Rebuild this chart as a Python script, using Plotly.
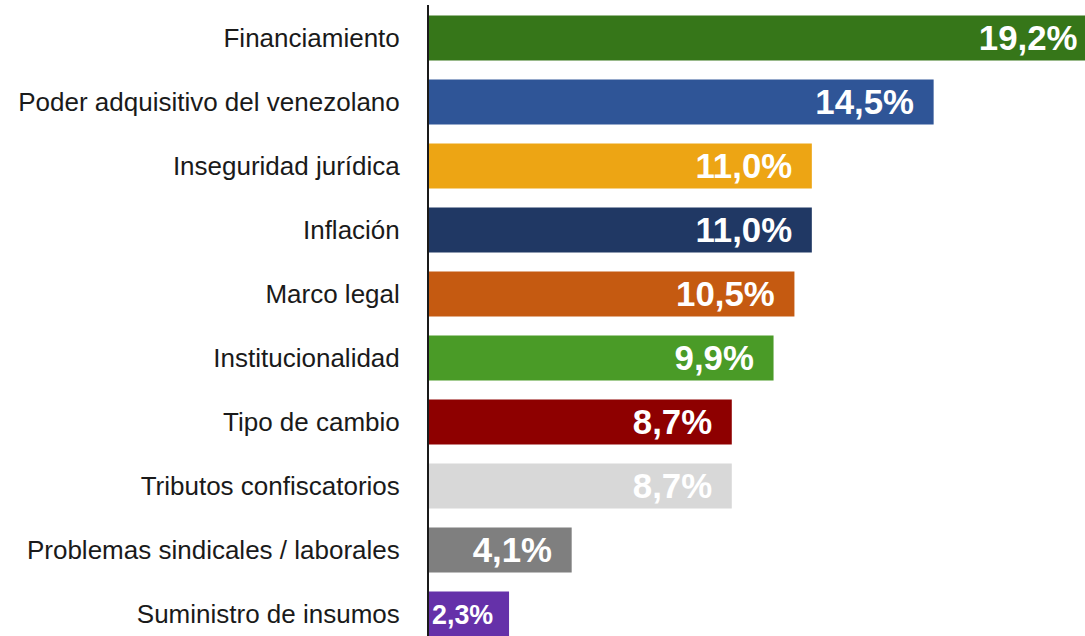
import plotly.graph_objects as go

categories = [
    "Financiamiento",
    "Poder adquisitivo del venezolano",
    "Inseguridad jurídica",
    "Inflación",
    "Marco legal",
    "Institucionalidad",
    "Tipo de cambio",
    "Tributos confiscatorios",
    "Problemas sindicales / laborales",
    "Suministro de insumos",
]
values = [19.2, 14.5, 11.0, 11.0, 10.5, 9.9, 8.7, 8.7, 4.1, 2.3]
colors = [
    "#367619", "#2F5597", "#EDA514", "#203864", "#C55A11",
    "#4A9B27", "#8E0000", "#D8D8D8", "#7F7F7F", "#6531A9",
]

PAD = "\u00a0\u2009"  # trailing padding inside bar end
labels = [f"{v:.1f}".replace(".", ",") + "%" + PAD for v in values]

fig = go.Figure(
    go.Bar(
        x=values,
        y=categories,
        orientation="h",
        marker=dict(color=colors, line=dict(width=0)),
        text=labels,
        textposition="inside",
        insidetextanchor="end",
        textangle=0,
        textfont=dict(family="Liberation Sans, Arial, sans-serif", size=35,
                      color="white", weight="bold"),
        hoverinfo="skip",
    )
)

# figure is a bit wider than the window so the longest bar is cut by the
# window edge, as in the reference
fig.update_layout(
    width=1100,
    height=636,
    margin=dict(l=429, r=0, t=5, b=0),
    paper_bgcolor="white",
    plot_bgcolor="white",
    bargap=0.3,
    showlegend=False,
    xaxis=dict(range=[0, 19.28], visible=False, fixedrange=True),
    yaxis=dict(
        categoryorder="array",
        categoryarray=categories,
        range=[9.344, -0.516],
        showline=True,
        linecolor="#1a1a1a",
        linewidth=2,
        ticks="",
        showgrid=False,
        zeroline=False,
        ticklabelstandoff=22,
        tickfont=dict(family="Liberation Sans, Arial, sans-serif", size=26,
                      color="#1a1a1a"),
        fixedrange=True,
    ),
)

fig.write_html(
    "out.html",
    config={"displayModeBar": False, "responsive": False},
    post_script="document.body.style.margin='0';document.body.style.overflow='hidden';",
)
